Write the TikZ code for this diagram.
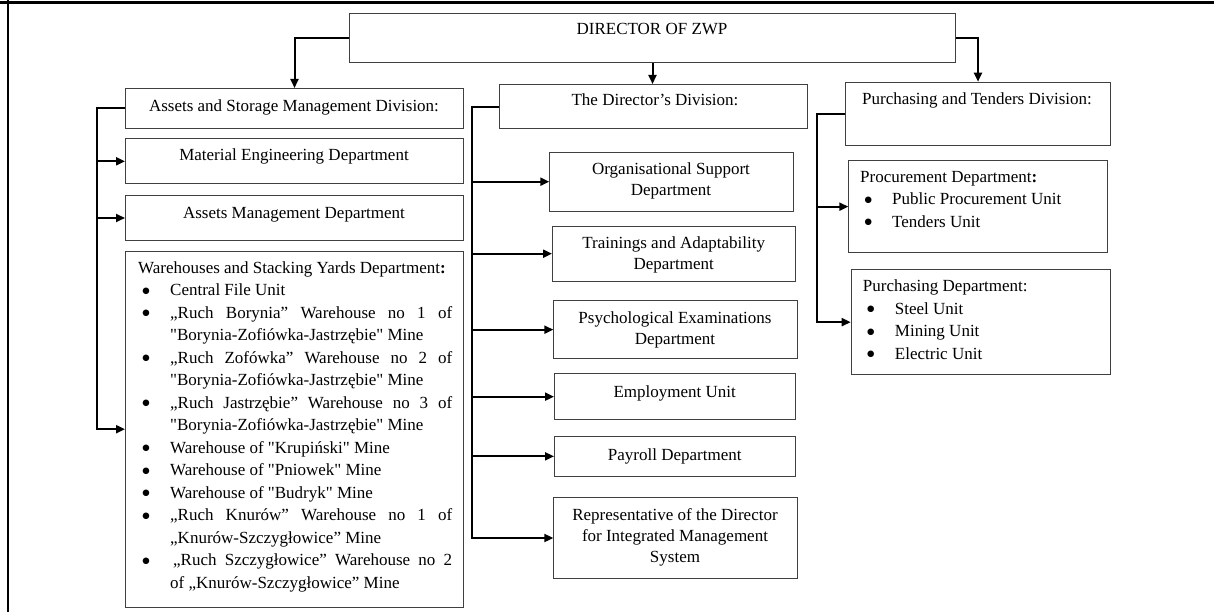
\documentclass[tikz,border=0pt]{standalone}
\usepackage{fontspec}
\setmainfont{Liberation Serif}[Ligatures=TeXOff]
\newfontfamily\dvfont{DejaVu Sans}
\usetikzlibrary{arrows.meta}
\newcommand\litem[1]{{\leftskip=32pt\noindent\llap{\makebox[0pt][c]{\raisebox{2.4pt}{\dvfont\fontsize{8.5}{8.5}\selectfont ●}}\hspace{24pt}}#1\par}}
\begin{document}
\begin{tikzpicture}[x=1pt,y=-1pt,
  box/.style={draw=black!75, line width=1pt, inner sep=0pt, anchor=north west},
  txt/.style={inner sep=0pt, anchor=base, font=\fontsize{17}{21}\selectfont},
  lst/.style={inner sep=0pt, anchor=base west, font=\fontsize{17}{22.5}\selectfont},
  conn/.style={line width=2pt, black, -{Triangle[length=9pt,width=8pt]}}]
\useasboundingbox (0,0) rectangle (1214,612);
% frame
\draw[line width=2.5pt] (0,2.5) -- (1214,2.5);
\draw[line width=2pt] (8,0) -- (8,612);
% boxes
\node[box, minimum width=606pt, minimum height=49pt] (dir) at (349,13) {};
\node[box, minimum width=338pt, minimum height=40pt] (asm) at (125,88) {};
\node[box, minimum width=338pt, minimum height=45pt] (med) at (125,138.3) {};
\node[box, minimum width=338pt, minimum height=45pt] (amd) at (125,195) {};
\node[box, minimum width=338pt, minimum height=356pt] (wh) at (125,250.7) {};
\node[box, minimum width=307.4pt, minimum height=44.3pt] (dd) at (499.3,84) {};
\node[box, minimum width=243.4pt, minimum height=59pt] (osd) at (549.3,151.7) {};
\node[box, minimum width=243.3pt, minimum height=55pt] (tad) at (552,225.7) {};
\node[box, minimum width=243.4pt, minimum height=58.3pt] (ped) at (553.3,300) {};
\node[box, minimum width=241.3pt, minimum height=45.7pt] (emp) at (554,373.3) {};
\node[box, minimum width=241.3pt, minimum height=40.3pt] (pay) at (554,435.7) {};
\node[box, minimum width=243.4pt, minimum height=81.6pt] (rep) at (553.3,496.7) {};
\node[box, minimum width=265pt, minimum height=63.3pt] (ptd) at (845,81.7) {};
\node[box, minimum width=259pt, minimum height=92.3pt] (proc) at (848.3,160) {};
\node[box, minimum width=259.3pt, minimum height=105.3pt] (pud) at (850.7,269) {};
% texts
\node[txt] (dirT) at (652,35) {DIRECTOR OF ZWP};
\node[txt] (asmT) at (294,111.7) {Assets and Storage Management Division:};
\node[txt] (medT) at (294,161) {Material Engineering Department};
\node[txt] (amdT) at (294,218.3) {Assets Management Department};
\node[lst] (whT) at (138,273.3) {\parbox[t]{314pt}{\noindent\hbox{Warehouses and Stacking Yards Department\textbf{:}}\par
  \litem{Central File Unit}
  \litem{„Ruch Borynia” Warehouse no 1 of\linebreak "Borynia-Zofiówka-Jastrzębie" Mine}
  \litem{„Ruch Zofówka” Warehouse no 2 of\linebreak "Borynia-Zofiówka-Jastrzębie" Mine}
  \litem{„Ruch Jastrzębie” Warehouse no 3 of\linebreak "Borynia-Zofiówka-Jastrzębie" Mine}
  \litem{Warehouse of "Krupiński" Mine}
  \litem{Warehouse of "Pniowek" Mine}
  \litem{Warehouse of "Budryk" Mine}
  \litem{„Ruch Knurów” Warehouse no 1 of\linebreak „Knurów-Szczygłowice” Mine}
  \litem{\hspace{3pt}„Ruch Szczygłowice” Warehouse no 2\linebreak of „Knurów-Szczygłowice” Mine}}};
\node[txt] (ddT) at (655,106) {The Director’s Division:};
\node[txt] (osdT) at (671,175) {\parbox[t]{240pt}{\centering Organisational Support\\Department}};
\node[txt] (tadT) at (673.7,248.3) {\parbox[t]{240pt}{\centering Trainings and Adaptability\\Department}};
\node[txt] (pedT) at (675,323.3) {\parbox[t]{240pt}{\centering Psychological Examinations\\Department}};
\node[txt] (empT) at (674.7,397.3) {Employment Unit};
\node[txt] (payT) at (674.7,460) {Payroll Department};
\node[txt] (repT) at (675,520.7) {\parbox[t]{240pt}{\centering Representative of the Director\\for Integrated Management\\System}};
\node[txt] (ptdT) at (977,104.3) {Purchasing and Tenders Division:};
\node[lst] (procT) at (860,182.3) {\parbox[t]{240pt}{\noindent Procurement Department\textbf{:}\par
  \litem{Public Procurement Unit}
  \litem{Tenders Unit}}};
\node[lst] (pudT) at (862.7,291.7) {\parbox[t]{240pt}{\noindent Purchasing Department:\par
  \litem{Steel Unit}
  \litem{Mining Unit}
  \litem{Electric Unit}}};
% connectors from director
\draw[conn] (dir.west) -| (asm.north);
\draw[conn] (dir.south) -- (dir.south |- dd.north);
\draw[conn] (dir.east) -| (ptd.north);
% assets division
\draw[conn] (asm.west) -- ++(-28,0) coordinate (ab) |- (wh.west);
\draw[conn] (ab |- med.west) -- (med.west);
\draw[conn] (ab |- amd.west) -- (amd.west);
% director's division
\draw[conn] (dd.west) -- ++(-27,0) coordinate (db) |- (rep.west);
\draw[conn] (db |- osd.west) -- (osd.west);
\draw[conn] (db |- tad.west) -- (tad.west);
\draw[conn] (db |- ped.west) -- (ped.west);
\draw[conn] (db |- emp.west) -- (emp.west);
\draw[conn] (db |- pay.west) -- (pay.west);
% purchasing division
\draw[conn] (ptd.west) -- ++(-28,0) coordinate (pb) |- (pud.west);
\draw[conn] (pb |- proc.west) -- (proc.west);
\end{tikzpicture}
\end{document}
